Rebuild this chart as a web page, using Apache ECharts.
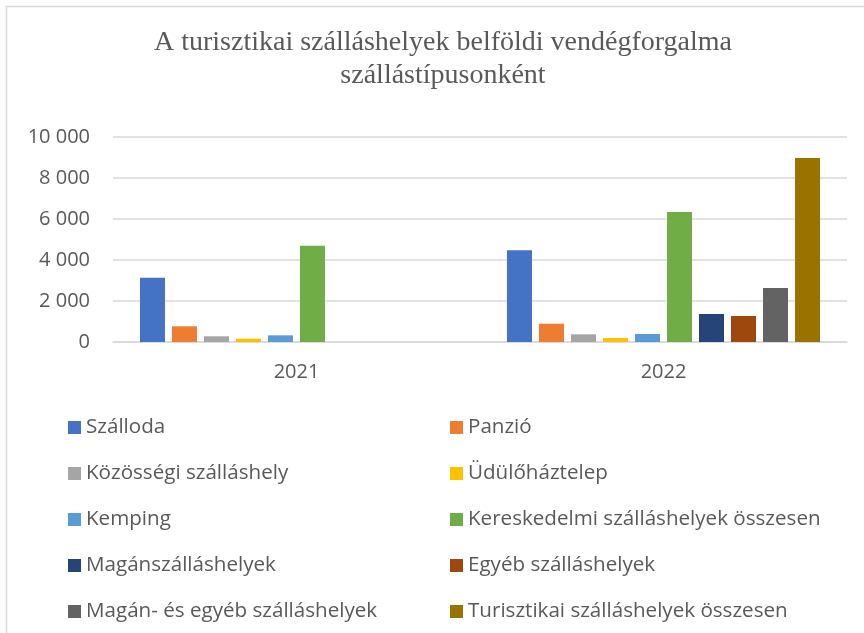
<!DOCTYPE html>
<html>
<head>
<meta charset="utf-8">
<script src="https://cdn.jsdelivr.net/npm/echarts@6/dist/echarts.min.js"></script>
<style>
html,body{margin:0;padding:0;background:#fff;}
#chart{width:864px;height:633px;}
</style>
</head>
<body>
<div id="chart"></div>
<script>
const titleLines = ['A turisztikai szálláshelyek belföldi vendégforgalma', 'szállástípusonként'];
const years = ['2021', '2022'];
const seriesNames = [
  'Szálloda', 'Panzió', 'Közösségi szálláshely', 'Üdülőháztelep', 'Kemping',
  'Kereskedelmi szálláshelyek összesen', 'Magánszálláshelyek', 'Egyéb szálláshelyek',
  'Magán- és egyéb szálláshelyek', 'Turisztikai szálláshelyek összesen'
];
const szalloda = [3140, 4470];
const panzio = [765, 893];
const kozossegi = [278, 375];
const udulohaztelep = [160, 195];
const kemping = [325, 390];
const kereskedelmi = [4700, 6340];
const maganszallashelyek = [null, 1365];
const egyeb = [null, 1268];
const maganEsEgyeb = [null, 2634];
const turisztikai = [null, 8975];
const yTicks = [0, 2000, 4000, 6000, 8000, 10000];

const seriesData = [szalloda, panzio, kozossegi, udulohaztelep, kemping, kereskedelmi,
  maganszallashelyek, egyeb, maganEsEgyeb, turisztikai];
const colors = ['#4472C4', '#ED7D31', '#A5A5A5', '#FFC000', '#5B9BD5', '#70AD47',
  '#264478', '#9E480E', '#636363', '#997300'];

const font = '"Open Sans", sans-serif';
const txt = '#595959';

const chart = echarts.init(document.getElementById('chart'), null, {renderer: 'canvas'});
const legendText = {fontFamily: font, fontSize: 20.6, color: txt, lineHeight: 20};
chart.setOption({
  animation: false,
  color: colors,
  title: {
    text: titleLines.join('\n'),
    left: 443,
    top: 26,
    padding: 0,
    textAlign: 'center',
    textStyle: {fontFamily: '"Liberation Serif", "Times New Roman", serif', fontWeight: 'normal', fontSize: 28, color: txt, lineHeight: 33}
  },
  graphic: [{
    type: 'rect', silent: true, z: -1,
    shape: {x: 6.5, y: 6.5, width: 870, height: 640},
    style: {fill: 'none', stroke: '#d9d9d9', lineWidth: 1.5}
  }],
  legend: [{
    orient: 'vertical', left: 68, top: 417, padding: 0,
    itemWidth: 13, itemHeight: 13, itemGap: 25,
    icon: 'rect',
    data: [seriesNames[0], seriesNames[2], seriesNames[4], seriesNames[6], seriesNames[8]],
    textStyle: legendText
  }, {
    orient: 'vertical', left: 450, top: 417, padding: 0,
    itemWidth: 13, itemHeight: 13, itemGap: 25,
    icon: 'rect',
    data: [seriesNames[1], seriesNames[3], seriesNames[5], seriesNames[7], seriesNames[9]],
    textStyle: legendText
  }],
  grid: {left: 113, right: 17, top: 137, bottom: 291, containLabel: false},
  xAxis: {
    type: 'category', data: years,
    axisLine: {lineStyle: {color: '#d9d9d9', width: 1.5}},
    axisTick: {show: false},
    axisLabel: {fontFamily: font, fontSize: 20, color: txt, margin: 20}
  },
  yAxis: {
    type: 'value', min: yTicks[0], max: yTicks[yTicks.length - 1], interval: yTicks[1] - yTicks[0],
    axisLine: {show: false}, axisTick: {show: false},
    splitLine: {lineStyle: {color: '#d9d9d9', width: 1.5}},
    axisLabel: {
      fontFamily: font, fontSize: 20, color: txt, margin: 23,
      formatter: v => String(v).replace(/\B(?=(\d{3})+(?!\d))/g, ' ')
    }
  },
  series: seriesNames.map((n, i) => ({
    name: n, type: 'bar', data: seriesData[i],
    barGap: '28%', barCategoryGap: '14.7%',
    itemStyle: {color: colors[i]}
  }))
});
</script>
</body>
</html>
